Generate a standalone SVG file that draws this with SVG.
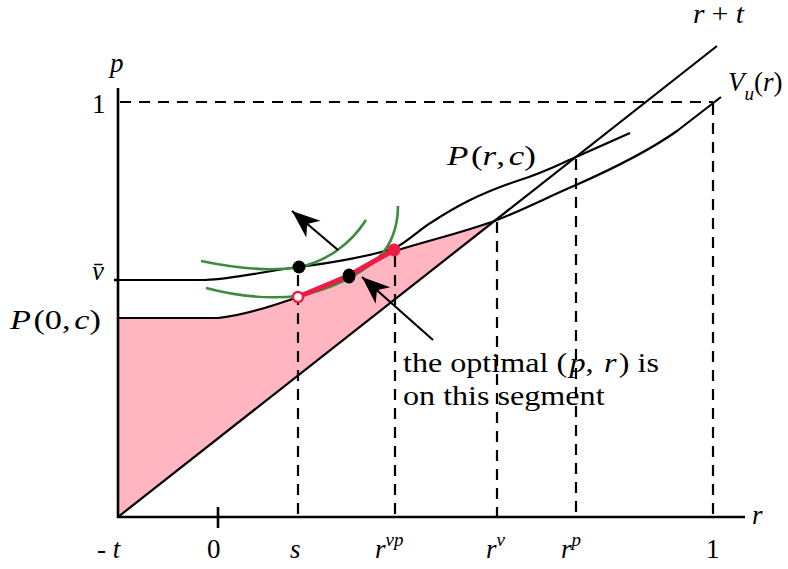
<svg xmlns="http://www.w3.org/2000/svg" width="788" height="569" viewBox="0 0 788 569">
<style>
text{font-family:"Liberation Serif","Times New Roman",serif;font-size:27px;fill:#000}
.i{font-style:italic}
.sup{font-size:19px;font-style:italic}
.ax{stroke:#000;stroke-width:2.6;fill:none}
.cv{stroke:#000;stroke-width:2.2;fill:none;stroke-linejoin:round}
.dash{stroke:#000;stroke-width:2.2;fill:none;stroke-dasharray:11 8}
.gr{stroke:#3d8b3d;stroke-width:2.6;fill:none}
.red{stroke:#ee1c45;stroke-width:5;fill:none;stroke-linecap:round;stroke-linejoin:round}
.arr{stroke:#000;stroke-width:2.2;fill:none;marker-end:url(#ah)}
</style>
<defs>
<marker id="ah" viewBox="-30 -12 31 24" refX="0" refY="0" markerWidth="31" markerHeight="24" markerUnits="userSpaceOnUse" orient="auto">
<path d="M0,0 L-28,-11 L-20,0 L-28,11 Z" fill="#000"/>
</marker>
</defs>

<g id="region">
<path d="M118,517 L118,318 L218,318 C240,316 270,307 298,297 L348,276 L395,251 C430,240 465,232 497,220 Z" fill="#ffb6c1"/>
</g>

<g id="guides">
<path class="dash" d="M120,102 H713"/>
<path class="dash" d="M298,275 V517"/>
<path class="dash" d="M395,256 V517"/>
<path class="dash" d="M497,222 V517"/>
<path class="dash" d="M576,159 V517"/>
<path class="dash" d="M713,104 V517"/>
</g>

<g id="axes">
<path class="ax" d="M118,88 V517 H745"/>
<path class="ax" d="M218,507 V528"/>
<path class="ax" d="M114,280 H118"/>
</g>

<g id="curves">
<path class="cv" d="M118,517 L717,46"/>
<path class="cv" d="M118,318 L218,318 C240,316 270,307 298,297 L348,276 L395,251 C430,240 465,232 497,220"/>
<path class="cv" d="M118,280 L205,280 C235,279 265,271 299,267 C330,263 370,256 395,248 C410,240 420,229 432,222 C455,207 480,193 520,180 C545,172 560,164 576,157 L630,133"/>
<path class="cv" d="M497,220 C525,209 550,196 576,185 C610,170 650,150 677,131 L721,97"/>
</g>

<g id="indifference">
<path class="gr" d="M201,261 C235,268 270,272 299,267 C325,262 350,245 366,220"/>
<path class="gr" d="M206,288 C240,297 270,299 298,296 C330,290 360,275 378,258 C392,245 398,225 398,206"/>
</g>

<g id="segment">
<path class="red" d="M298,297 L348,276 L394,250"/>
<circle cx="394" cy="250" r="6.5" fill="#ee1c45"/>
<circle cx="298" cy="297" r="5" fill="#fff" stroke="#ee1c45" stroke-width="2.5"/>
</g>

<g id="points">
<circle cx="299" cy="267" r="6.5" fill="#000"/>
<ellipse cx="349" cy="276" rx="6.5" ry="7.5" fill="#000"/>
</g>

<g id="connectors">
<path class="arr" d="M338,250 L292,211"/>
<path class="arr" d="M433,340 L362,277"/>
</g>

<g id="labels">
<text class="i" x="110" y="72">p</text>
<text x="92" y="113" font-size="28">1</text>
<text class="i" x="92" y="280" font-size="29">v̄</text>
<text x="10" y="329" font-size="30" textLength="91" lengthAdjust="spacingAndGlyphs"><tspan class="i">P</tspan><tspan dx="2">(0,</tspan><tspan class="i" dx="3">c</tspan>)</text>
<text x="447" y="165" font-size="30" textLength="89" lengthAdjust="spacingAndGlyphs"><tspan class="i">P</tspan><tspan dx="2">(</tspan><tspan class="i">r</tspan>,<tspan class="i" dx="3">c</tspan>)</text>
<text x="693" y="23" font-size="26" textLength="51" lengthAdjust="spacingAndGlyphs"><tspan class="i">r</tspan> + <tspan class="i">t</tspan></text>
<text x="728" y="91" font-size="28"><tspan class="i">V</tspan><tspan class="sup" dy="9">u</tspan><tspan dy="-9">(</tspan><tspan class="i">r</tspan>)</text>
<text transform="translate(403,372) scale(1.19,1)" font-size="26">the optimal (<tspan class="i" dx="2">p</tspan>, <tspan class="i" dx="2">r</tspan><tspan dx="2">) is</tspan></text>
<text transform="translate(403,405) scale(1.19,1)" font-size="26">on this segment</text>
<text x="97" y="558" font-size="28">- <tspan class="i">t</tspan></text>
<text x="207" y="558" font-size="28">0</text>
<text class="i" x="290" y="558" font-size="28">s</text>
<text x="375" y="558" font-size="28"><tspan class="i">r</tspan><tspan class="sup" dy="-12">vp</tspan></text>
<text x="486" y="558" font-size="28"><tspan class="i">r</tspan><tspan class="sup" dy="-12">v</tspan></text>
<text x="561" y="558" font-size="28"><tspan class="i">r</tspan><tspan class="sup" dy="-12">p</tspan></text>
<text x="706" y="558" font-size="28">1</text>
<text class="i" x="752" y="524" font-size="28">r</text>
</g>
</svg>
